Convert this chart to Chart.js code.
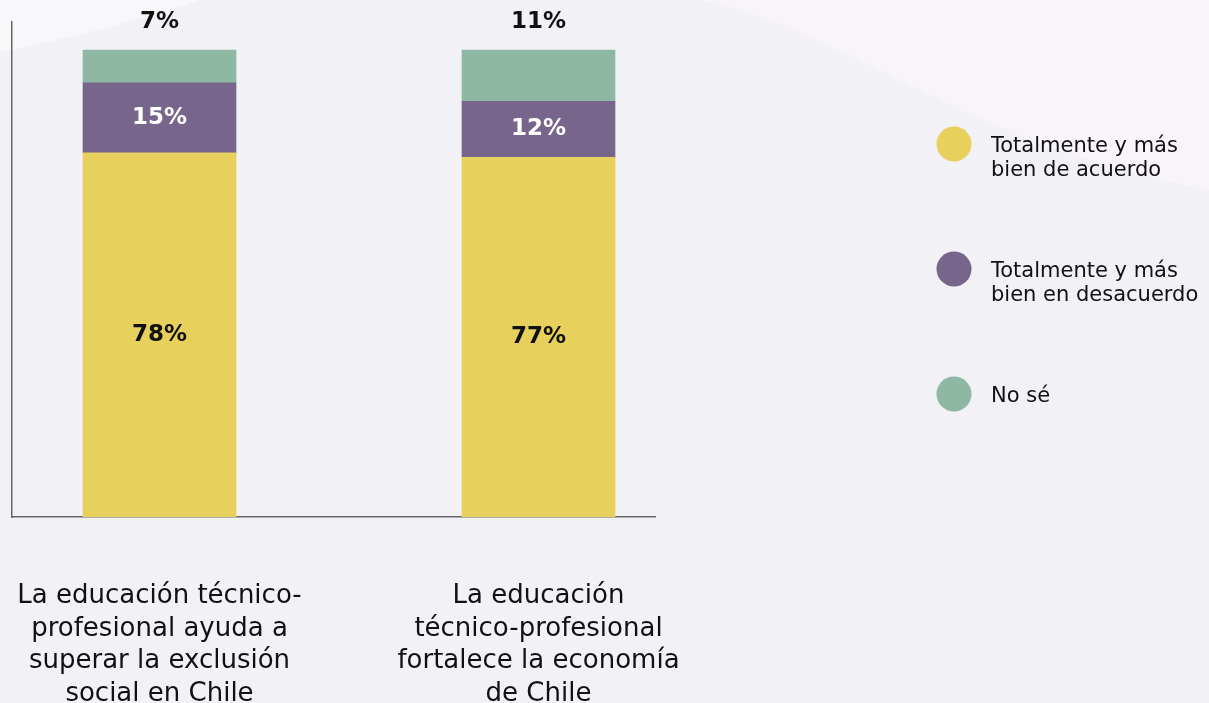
<!DOCTYPE html>
<html>
<head>
<meta charset="utf-8">
<script src="https://cdn.jsdelivr.net/npm/chart.js@4"></script>
<style>
  html, body { margin: 0; padding: 0; overflow: hidden; background: #f2f2f6; }
  #wrap { width: 1209px; height: 703px; position: relative; }
</style>
</head>
<body>
<div id="wrap"><canvas id="chart" width="1209" height="703"></canvas></div>
<script>
  // Data
  const categories = [
    ["La educación técnico-", "profesional ayuda a", "superar la exclusión", "social en Chile"],
    ["La educación", "técnico-profesional", "fortalece la economía", "de Chile"]
  ];
  const seriesNames = [
    ["Totalmente y más", "bien de acuerdo"],
    ["Totalmente y más", "bien en desacuerdo"],
    ["No sé"]
  ];
  const acuerdo = [78, 77];
  const desacuerdo = [15, 12];
  const noSe = [7, 11];
  const colors = ["#e7d05b", "#78658c", "#8eb8a3"];

  const FONT = '"DejaVu Sans", sans-serif';
  Chart.defaults.font.family = FONT;
  Chart.defaults.color = "#111";

  const series = [acuerdo, desacuerdo, noSe];

  // Soft background shapes
  const backdrop = {
    id: "backdrop",
    beforeDraw(chart) {
      const { ctx, width, height } = chart;
      ctx.save();
      ctx.fillStyle = "#f2f2f6";
      ctx.fillRect(0, 0, width, height);
      ctx.fillStyle = "#f8f8fb";
      ctx.beginPath();
      ctx.moveTo(0, 0);
      ctx.lineTo(0, 52);
      ctx.quadraticCurveTo(110, 30, 200, 0);
      ctx.closePath();
      ctx.fill();
      ctx.fillStyle = "#f8f4f9";
      ctx.beginPath();
      ctx.moveTo(700, 0);
      ctx.bezierCurveTo(850, 30, 950, 140, width, 190);
      ctx.lineTo(width, 0);
      ctx.closePath();
      ctx.fill();
      ctx.restore();
    }
  };

  // Percent labels on / above the segments
  const valueLabels = {
    id: "valueLabels",
    afterDatasetsDraw(chart) {
      const ctx = chart.ctx;
      ctx.save();
      ctx.font = "bold 23px " + FONT;
      ctx.textAlign = "center";
      ctx.textBaseline = "middle";
      chart.data.datasets.forEach((ds, i) => {
        chart.getDatasetMeta(i).data.forEach((bar, j) => {
          const above = i === series.length - 1;
          const y = above ? bar.y - 28 : (bar.y + bar.base) / 2;
          ctx.fillStyle = i === 1 ? "#fff" : "#111";
          ctx.fillText(series[i][j] + "%", bar.x, y);
        });
      });
      ctx.restore();
    }
  };

  // Legend on the right
  const sideLegend = {
    id: "sideLegend",
    afterDraw(chart) {
      const ctx = chart.ctx;
      ctx.save();
      ctx.font = "21px " + FONT;
      ctx.textAlign = "left";
      ctx.textBaseline = "middle";
      chart.data.datasets.forEach((ds, i) => {
        const cy = 144 + i * 125;
        ctx.fillStyle = ds.backgroundColor;
        ctx.beginPath();
        ctx.arc(954, cy, 17.5, 0, Math.PI * 2);
        ctx.fill();
        ctx.fillStyle = "#111";
        seriesNames[i].forEach((line, k) => ctx.fillText(line, 991, cy + 3 + k * 24));
      });
      ctx.restore();
    }
  };

  new Chart(document.getElementById("chart"), {
    type: "bar",
    data: {
      datasets: series.map((vals, i) => ({
        label: seriesNames[i].join(" "),
        data: vals.map((v, j) => ({ x: j, y: v })),
        backgroundColor: colors[i],
        barThickness: 153,
        borderWidth: 0
      }))
    },
    options: {
      responsive: false,
      animation: false,
      layout: { padding: { left: 12, top: 22, right: 554, bottom: 0 } },
      plugins: { legend: { display: false }, tooltip: { enabled: false } },
      scales: {
        x: {
          type: "linear",
          stacked: true,
          offset: false,
          min: -0.3892,
          max: 1.3074,
          afterBuildTicks: (s) => { s.ticks = categories.map((c, j) => ({ value: j })); },
          afterFit: (s) => { s.height = 186; s.paddingLeft = 0; s.paddingRight = 0; },
          grid: { display: false, drawTicks: false, offset: false },
          border: { display: true, color: "#666", width: 1.5 },
          ticks: {
            autoSkip: false,
            maxRotation: 0,
            minRotation: 0,
            padding: 63,
            color: "#111",
            font: { size: 26, lineHeight: 1.25 },
            callback: (v) => categories[v]
          }
        },
        y: {
          stacked: true,
          min: 0,
          max: 106,
          afterFit: (s) => { s.width = 0; },
          grid: { display: false, drawTicks: false },
          border: { display: true, color: "#666", width: 1.5 },
          ticks: { display: false }
        }
      }
    },
    plugins: [backdrop, valueLabels, sideLegend]
  });
</script>
</body>
</html>
